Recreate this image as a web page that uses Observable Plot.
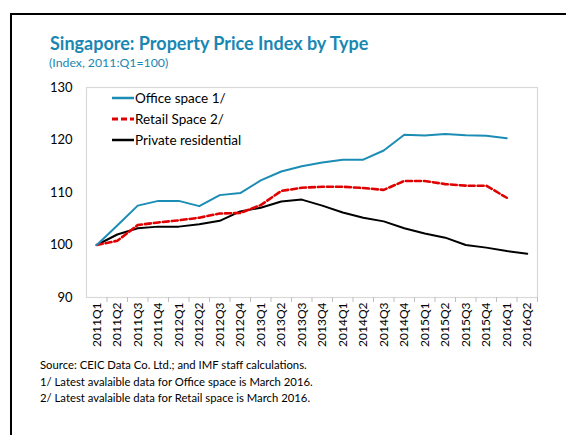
<!DOCTYPE html>
<html><head><meta charset="utf-8">
<script src="https://cdn.jsdelivr.net/npm/d3@7"></script>
<script src="https://cdn.jsdelivr.net/npm/@observablehq/plot@0.6"></script>
<style>
body{margin:0;background:#fff;width:566px;height:435px;overflow:hidden;position:relative;font-family:Lato,"Open Sans",sans-serif;}
#frame{position:absolute;left:10px;top:13px;width:700px;height:500px;border-left:2.5px solid #000;border-top:2.5px solid #000;}
#title{position:absolute;left:50px;top:32px;font-size:18px;font-weight:bold;color:#1a87b3;white-space:nowrap;}
#subtitle{position:absolute;left:49px;top:55px;font-size:12.3px;color:#1a87b3;white-space:nowrap;}
#chart{position:absolute;left:0;top:0;}
.leg{position:absolute;left:112px;font-size:13.5px;color:#000;white-space:nowrap;display:flex;align-items:center;}
.leg svg{margin-right:1px;}
#caption{position:absolute;left:40px;top:357px;font-size:11.3px;line-height:16.5px;color:#000;white-space:nowrap;}
</style></head><body>
<div id="frame"></div>
<div id="title">Singapore: Property Price Index by Type</div>
<div id="subtitle">(Index, 2011:Q1=100)</div>
<div id="chart"></div>
<div id="legend"></div>
<div id="caption">Source: CEIC Data Co. Ltd.; and IMF staff calculations.<br>1/ Latest avalaible data for Office space is March 2016.<br>2/ Latest avalaible data for Retail space is March 2016.</div>
<script>
const quarters = ["2011Q1","2011Q2","2011Q3","2011Q4","2012Q1","2012Q2","2012Q3","2012Q4","2013Q1","2013Q2","2013Q3","2013Q4","2014Q1","2014Q2","2014Q3","2014Q4","2015Q1","2015Q2","2015Q3","2015Q4","2016Q1","2016Q2"];
const office = [100,103.7,107.5,108.4,108.4,107.4,109.5,109.9,112.3,114.0,115.0,115.7,116.25,116.25,118.0,121.0,120.85,121.15,120.9,120.8,120.35,null];
const retail = [100,100.8,103.8,104.3,104.7,105.2,106.0,106.1,107.6,110.3,110.9,111.1,111.1,110.85,110.5,112.2,112.2,111.6,111.3,111.3,109.0,null];
const residential = [100,102.0,103.2,103.5,103.5,103.95,104.6,106.4,107.1,108.3,108.65,107.5,106.2,105.2,104.5,103.2,102.2,101.4,100.0,99.5,98.85,98.35];
const seriesNames = ["Office space 1/","Retail Space 2/","Private residential"];
const yTicks = [90,100,110,120,130];

const colors = ["#1b8db5","#e00000","#000000"];
const widths = [2,2.6,2];
const dashes = [null,"6,3",null];

const rows = (vals) => quarters.map((q,i)=>({q, v: vals[i]}));
const W = 566, H = 360, mL = 86, mR = 29;
const bw = (W - mL - mR) / quarters.length;

const chart = Plot.plot({
  width: W, height: H,
  marginLeft: mL, marginRight: mR, marginTop: 87, marginBottom: 63,
  style: {fontFamily: "Lato, 'Open Sans', sans-serif", background: "transparent"},
  x: {type: "band", domain: quarters, padding: 0, round: false, label: null},
  y: {domain: [90,130], label: null},
  marks: [
    Plot.frame({stroke: "#d9d9d9", strokeWidth: 1.2}),
    Plot.axisY({ticks: yTicks, tickSize: 0, tickPadding: 14, fontSize: 13, fill: "#000", label: null}),
    Plot.axisX({tickSize: 0, tickRotate: -90, tickPadding: 5, fontSize: 12, fill: "#000", label: null}),
    Plot.axisX({tickSize: 5, tickFormat: () => "", stroke: "#bfbfbf", dx: bw/2, label: null}),
    Plot.line(rows(residential), {x: "q", y: "v", stroke: colors[2], strokeWidth: widths[2], defined: d => d.v != null}),
    Plot.line(rows(retail).filter(d=>d.v!=null), {x: "q", y: "v", stroke: colors[1], strokeWidth: widths[1], strokeDasharray: dashes[1]}),
    Plot.line(rows(office).filter(d=>d.v!=null), {x: "q", y: "v", stroke: colors[0], strokeWidth: widths[0]})
  ]
});
document.getElementById("chart").appendChild(chart);

const legTops = [90, 111, 132];
const legend = document.getElementById("legend");
seriesNames.forEach((n,i)=>{
  const d = document.createElement("div");
  d.className = "leg";
  d.style.top = legTops[i] + "px";
  d.innerHTML = `<svg width="22" height="6"><line x1="0" y1="3" x2="22" y2="3" stroke="${colors[i]}" stroke-width="${widths[i]+0.5}" ${dashes[i]?`stroke-dasharray="${dashes[i]}"`:""}/></svg><span>${n}</span>`;
  legend.appendChild(d);
});
</script>
</body></html>
